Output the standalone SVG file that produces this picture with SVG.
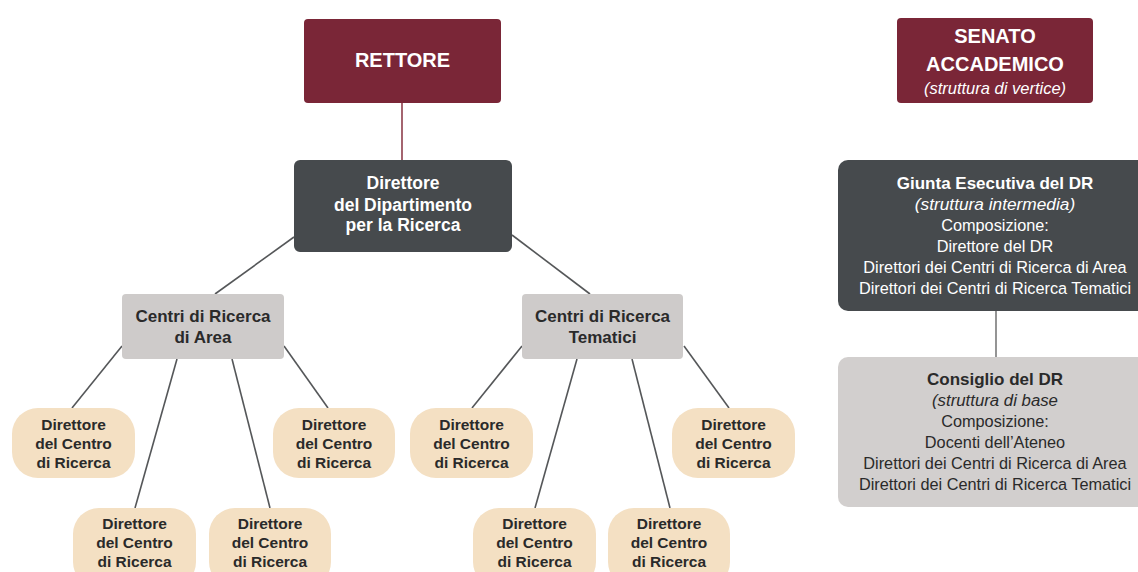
<svg xmlns="http://www.w3.org/2000/svg" width="1138" height="572" viewBox="0 0 1138 572">
<style>
text{font-family:"Liberation Sans",Arial,sans-serif;text-anchor:middle}
.w{fill:#ffffff}
.k{fill:#2a2a2a}
.b{font-weight:bold}
.i{font-style:italic}
.burg{fill:#7A2637}
.dark{fill:#464A4D}
.lg{fill:#CECBCA}
.lg2{fill:#D2CFCE}
.leaf{fill:#F4E0C3}
.ln{stroke:#555759;stroke-width:1.6;fill:none}
.t20{font-size:20px}
.t17{font-size:17px}
.t175{font-size:17.5px}
.t15{font-size:15.5px}
.t16{font-size:16.3px}
</style>
<rect width="1138" height="572" fill="#ffffff"/>
<g id="connectors">
<line x1="402" y1="102" x2="402" y2="160" stroke="#8E3E4C" stroke-width="1.6"/>
<line class="ln" x1="294" y1="237" x2="215" y2="294"/>
<line class="ln" x1="512" y1="235" x2="590" y2="294"/>
<line class="ln" x1="122" y1="346" x2="72" y2="408"/>
<line class="ln" x1="177" y1="359" x2="135" y2="508"/>
<line class="ln" x1="232" y1="359" x2="270" y2="508"/>
<line class="ln" x1="284" y1="346" x2="328" y2="408"/>
<line class="ln" x1="522" y1="346" x2="472" y2="408"/>
<line class="ln" x1="577" y1="359" x2="535" y2="508"/>
<line class="ln" x1="632" y1="359" x2="670" y2="508"/>
<line class="ln" x1="684" y1="346" x2="729" y2="408"/>
<line x1="996" y1="311" x2="996" y2="357" stroke="#7a7a7a" stroke-width="1.6"/>
</g>
<g id="rettore">
<rect class="burg" x="304" y="19" width="197" height="84" rx="4"/>
<text class="w b t20" x="402.5" y="67">RETTORE</text>
</g>
<g id="senato">
<rect class="burg" x="897" y="18" width="196" height="85" rx="4"/>
<text class="w b t20" x="995" y="43">SENATO</text>
<text class="w b t20" x="995" y="71">ACCADEMICO</text>
<text class="w i" x="995" y="94" font-size="16.5">(struttura di vertice)</text>
</g>
<g id="direttore-dr">
<rect class="dark" x="294" y="160" width="218" height="92" rx="6"/>
<text class="w b t175" x="403" y="189">Direttore</text>
<text class="w b t175" x="403" y="211">del Dipartimento</text>
<text class="w b t175" x="403" y="231">per la Ricerca</text>
</g>
<g id="centri-area">
<rect class="lg" x="122" y="294" width="162" height="65" rx="4"/>
<text class="k b t17" x="203" y="322">Centri di Ricerca</text>
<text class="k b t17" x="203" y="343">di Area</text>
</g>
<g id="centri-tematici">
<rect class="lg" x="522" y="294" width="161" height="65" rx="4"/>
<text class="k b t17" x="602.5" y="322">Centri di Ricerca</text>
<text class="k b t17" x="602.5" y="343">Tematici</text>
</g>
<g id="leaf-a1">
<rect class="leaf" x="12" y="408" width="123" height="70" rx="26"/>
<text class="k b t15" x="73.5" y="430">Direttore</text>
<text class="k b t15" x="73.5" y="449">del Centro</text>
<text class="k b t15" x="73.5" y="468">di Ricerca</text>
</g>
<g id="leaf-a2">
<rect class="leaf" x="73" y="508" width="123" height="80" rx="26"/>
<text class="k b t15" x="134.5" y="529">Direttore</text>
<text class="k b t15" x="134.5" y="548">del Centro</text>
<text class="k b t15" x="134.5" y="567">di Ricerca</text>
</g>
<g id="leaf-a3">
<rect class="leaf" x="209" y="508" width="122" height="80" rx="26"/>
<text class="k b t15" x="270" y="529">Direttore</text>
<text class="k b t15" x="270" y="548">del Centro</text>
<text class="k b t15" x="270" y="567">di Ricerca</text>
</g>
<g id="leaf-a4">
<rect class="leaf" x="273" y="408" width="122" height="70" rx="26"/>
<text class="k b t15" x="334" y="430">Direttore</text>
<text class="k b t15" x="334" y="449">del Centro</text>
<text class="k b t15" x="334" y="468">di Ricerca</text>
</g>
<g id="leaf-t1">
<rect class="leaf" x="410" y="408" width="123" height="70" rx="26"/>
<text class="k b t15" x="471.5" y="430">Direttore</text>
<text class="k b t15" x="471.5" y="449">del Centro</text>
<text class="k b t15" x="471.5" y="468">di Ricerca</text>
</g>
<g id="leaf-t2">
<rect class="leaf" x="473" y="508" width="123" height="80" rx="26"/>
<text class="k b t15" x="534.5" y="529">Direttore</text>
<text class="k b t15" x="534.5" y="548">del Centro</text>
<text class="k b t15" x="534.5" y="567">di Ricerca</text>
</g>
<g id="leaf-t3">
<rect class="leaf" x="608" y="508" width="122" height="80" rx="26"/>
<text class="k b t15" x="669" y="529">Direttore</text>
<text class="k b t15" x="669" y="548">del Centro</text>
<text class="k b t15" x="669" y="567">di Ricerca</text>
</g>
<g id="leaf-t4">
<rect class="leaf" x="672" y="408" width="123" height="70" rx="26"/>
<text class="k b t15" x="733.5" y="430">Direttore</text>
<text class="k b t15" x="733.5" y="449">del Centro</text>
<text class="k b t15" x="733.5" y="468">di Ricerca</text>
</g>
<g id="giunta">
<rect class="dark" x="838" y="160" width="320" height="151" rx="10"/>
<text class="w b t17" x="995" y="189">Giunta Esecutiva del DR</text>
<text class="w i" x="995" y="210" font-size="17.3">(struttura intermedia)</text>
<text class="w t16" x="995" y="231">Composizione:</text>
<text class="w t16" x="995" y="252">Direttore del DR</text>
<text class="w t16" x="995" y="273">Direttori dei Centri di Ricerca di Area</text>
<text class="w t16" x="995" y="294">Direttori dei Centri di Ricerca Tematici</text>
</g>
<g id="consiglio">
<rect class="lg2" x="838" y="357" width="320" height="150" rx="10"/>
<text class="k b t17" x="995" y="385">Consiglio del DR</text>
<text class="k i" x="995" y="406" font-size="16.8">(struttura di base</text>
<text class="k t16" x="995" y="427">Composizione:</text>
<text class="k t16" x="995" y="448">Docenti dell’Ateneo</text>
<text class="k t16" x="995" y="469">Direttori dei Centri di Ricerca di Area</text>
<text class="k t16" x="995" y="490">Direttori dei Centri di Ricerca Tematici</text>
</g>
</svg>
